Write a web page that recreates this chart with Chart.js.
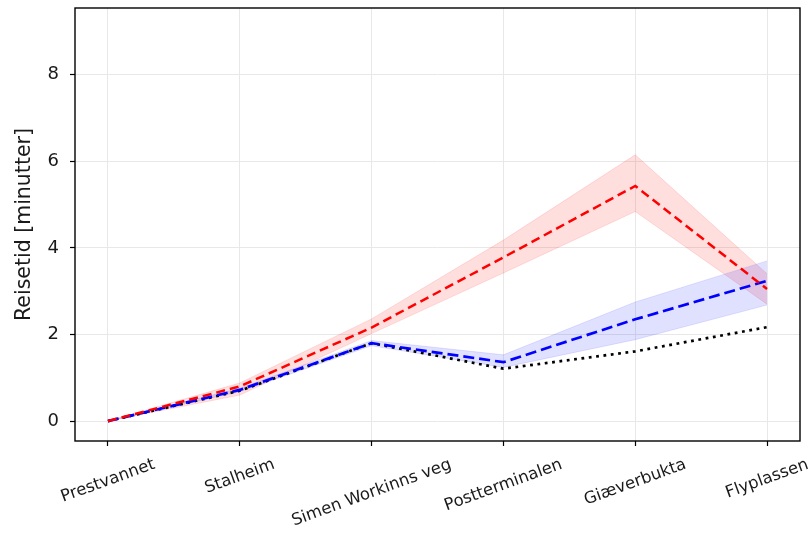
<!DOCTYPE html>
<html>
<head>
<meta charset="utf-8">
<script src="https://cdn.jsdelivr.net/npm/chart.js@4"></script>
<style>
  html, body { margin: 0; padding: 0; background: #fff; }
  #wrap { width: 809px; height: 533px; }
</style>
</head>
<body>
<div id="wrap"><canvas id="travelChart" width="809" height="533"></canvas></div>
<script>
const stops = ['Prestvannet', 'Stalheim', 'Simen Workinns veg', 'Postterminalen', 'Giæverbukta', 'Flyplassen'];

const redMean = [0, 0.80, 2.16, 3.78, 5.43, 3.05];
const redLow  = [0, 0.60, 2.02, 3.42, 4.84, 2.70];
const redHigh = [0, 0.88, 2.36, 4.18, 6.15, 3.40];

const blueMean = [0, 0.72, 1.80, 1.36, 2.35, 3.24];
const blueLow  = [0, 0.68, 1.74, 1.24, 1.88, 2.68];
const blueHigh = [0, 0.76, 1.86, 1.53, 2.75, 3.70];

const blackRef = [0, 0.70, 1.80, 1.21, 1.61, 2.17];

const yTicks = [0, 2, 4, 6, 8];

const pts = arr => arr.map((v, i) => ({ x: i, y: v }));

const FONT = "'DejaVu Sans', sans-serif";

// box round the plot area + centred, rotated stop names
const framePlugin = {
  id: 'frame',
  afterDatasetsDraw(chart) {
    const { ctx, chartArea: a } = chart;
    ctx.save();
    ctx.strokeStyle = '#000';
    ctx.lineWidth = 1.4;
    ctx.strokeRect(a.left, a.top, a.right - a.left, a.bottom - a.top);
    ctx.restore();
  },
  afterDraw(chart) {
    const { ctx } = chart;
    const xs = chart.scales.x;
    const ang = 20 * Math.PI / 180;
    const size = 16.5;
    ctx.save();
    ctx.font = size + 'px ' + FONT;
    ctx.fillStyle = '#1a1a1a';
    ctx.textAlign = 'center';
    ctx.textBaseline = 'middle';
    stops.forEach((name, i) => {
      const w = ctx.measureText(name).width;
      const h = size * 1.17;
      const bh = w * Math.sin(ang) + h * Math.cos(ang);
      const cx = xs.getPixelForValue(i);
      const cy = 455 + bh / 2;
      ctx.save();
      ctx.translate(cx, cy);
      ctx.rotate(-ang);
      ctx.fillText(name, 0, 0);
      ctx.restore();
    });
    ctx.restore();
  }
};

new Chart(document.getElementById('travelChart').getContext('2d'), {
  type: 'line',
  data: {
    datasets: [
      {
        label: 'red',
        data: pts(redMean),
        borderColor: '#ff0000',
        borderWidth: 2.5,
        borderDash: [9, 5],
        pointRadius: 0,
        fill: false,
        order: 1
      },
      {
        label: 'blue',
        data: pts(blueMean),
        borderColor: '#0000ff',
        borderWidth: 2.7,
        borderDash: [11, 5],
        pointRadius: 0,
        fill: false,
        order: 2
      },
      {
        label: 'black',
        data: pts(blackRef),
        borderColor: '#000000',
        borderWidth: 2.7,
        borderDash: [2.8, 4.6],
        pointRadius: 0,
        fill: false,
        order: 3
      },
      {
        label: 'redHigh',
        data: pts(redHigh),
        borderColor: 'rgba(255,0,0,0.12)',
        borderWidth: 1,
        backgroundColor: 'rgba(255,0,0,0.13)',
        pointRadius: 0,
        fill: '+1',
        order: 5
      },
      {
        label: 'redLow',
        data: pts(redLow),
        borderColor: 'rgba(255,0,0,0.12)',
        borderWidth: 1,
        pointRadius: 0,
        fill: false,
        order: 5
      },
      {
        label: 'blueHigh',
        data: pts(blueHigh),
        borderColor: 'rgba(0,0,255,0.1)',
        borderWidth: 1,
        backgroundColor: 'rgba(0,0,255,0.12)',
        pointRadius: 0,
        fill: '+1',
        order: 4
      },
      {
        label: 'blueLow',
        data: pts(blueLow),
        borderColor: 'rgba(0,0,255,0.1)',
        borderWidth: 1,
        pointRadius: 0,
        fill: false,
        order: 4
      }
    ]
  },
  options: {
    responsive: false,
    animation: false,
    layout: { padding: { top: 8, right: 9, left: 0, bottom: 0 } },
    plugins: {
      legend: { display: false },
      tooltip: { enabled: false }
    },
    scales: {
      x: {
        type: 'linear',
        min: -0.25,
        max: 5.25,
        afterBuildTicks: s => { s.ticks = stops.map((_, i) => ({ value: i })); },
        afterFit: s => { s.height = 92; s.paddingLeft = 0; s.paddingRight = 0; },
        ticks: { display: false },
        border: { display: false },
        grid: { color: '#e8e8e8', lineWidth: 1, tickColor: '#000', tickLength: 5, tickWidth: 1.2 }
      },
      y: {
        min: -0.46,
        max: 9.54,
        afterBuildTicks: s => { s.ticks = yTicks.map(v => ({ value: v })); },
        afterFit: s => { s.width = 75; s.paddingTop = 0; s.paddingBottom = 0; },
        ticks: {
          padding: 11,
          color: '#1a1a1a',
          font: { family: FONT, size: 18 }
        },
        border: { display: false },
        grid: { color: '#e8e8e8', lineWidth: 1, tickColor: '#000', tickLength: 5, tickWidth: 1.2 },
        title: {
          display: true,
          text: 'Reisetid [minutter]',
          color: '#1a1a1a',
          font: { family: FONT, size: 20.5 },
          padding: { top: 12, bottom: 0 }
        }
      }
    }
  },
  plugins: [framePlugin]
});
</script>
</body>
</html>
